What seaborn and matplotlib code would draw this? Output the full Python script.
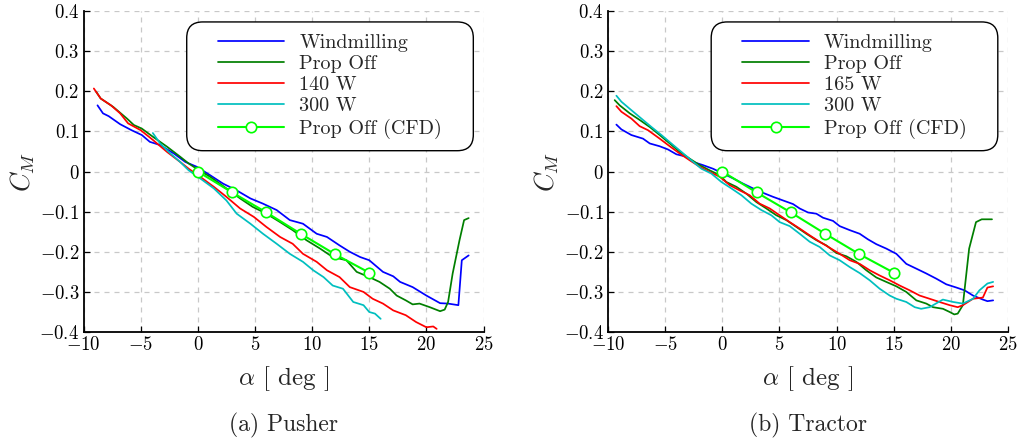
import numpy as np
import pandas as pd
import matplotlib
matplotlib.use("Agg")
import matplotlib.pyplot as plt
from matplotlib.ticker import FuncFormatter
from matplotlib.patches import FancyBboxPatch
from matplotlib.transforms import IdentityTransform
import seaborn as sns

# ---------------- data ----------------
cfd_alpha = [0, 3, 6, 9, 12, 15]
cfd_cm = [0.0, -0.052, -0.102, -0.155, -0.206, -0.252]

# Pusher
p_wind_a = [-8.78, -8.3, -7.8, -6.8, -5.8, -4.9, -4.2, -3.3, -2.1, -1.1, -0.1, 1.07, 2.2, 3.4, 4.6, 5.7,
            6.9, 8.05, 9.2, 10.4, 11.3, 12.4, 13.3, 14.2, 15.0, 16.2, 17.1, 17.7, 18.8, 20.0, 21.2,
            21.9, 22.8, 23.1, 23.7]
p_wind_c = [0.165, 0.145, 0.138, 0.118, 0.103, 0.091, 0.074, 0.066, 0.045, 0.024, 0.012, -0.009, -0.030,
            -0.047, -0.067, -0.080, -0.096, -0.121, -0.130, -0.155, -0.163, -0.184, -0.200, -0.213,
            -0.221, -0.250, -0.261, -0.275, -0.288, -0.309, -0.328, -0.329, -0.333, -0.221, -0.209]
p_off_a = [-8.9, -8.5, -7.4, -6.2, -5.6, -4.9, -3.9, -2.7, -1.55, -0.8, -0.1, 1.07, 2.5, 3.7, 4.8, 6.0,
           7.2, 8.3, 9.5, 10.7, 11.8, 13.0, 13.9, 15.0, 15.9, 16.8, 17.4, 18.2, 18.8, 19.4, 20.3, 21.2,
           21.6, 21.9, 22.3, 22.9, 23.3, 23.7]
p_off_c = [0.199, 0.182, 0.161, 0.132, 0.116, 0.107, 0.086, 0.062, 0.037, 0.020, 0.007, -0.013, -0.042,
           -0.067, -0.088, -0.105, -0.126, -0.146, -0.171, -0.192, -0.213, -0.221, -0.250, -0.263,
           -0.275, -0.292, -0.309, -0.321, -0.331, -0.329, -0.338, -0.348, -0.344, -0.325, -0.254,
           -0.171, -0.121, -0.116]
p_140_a = [-9.1, -8.5, -7.6, -6.8, -6.1, -5.0, -3.9, -2.7, -1.55, -0.8, 0.2, 1.4, 2.5, 3.7, 4.9, 6.0,
           7.2, 8.3, 9.2, 10.4, 11.3, 12.4, 13.3, 14.5, 15.3, 16.2, 17.1, 18.2, 19.1, 20.0, 20.6, 20.9]
p_140_c = [0.207, 0.182, 0.165, 0.145, 0.120, 0.103, 0.078, 0.049, 0.024, 0.007, -0.013, -0.038, -0.063,
           -0.092, -0.113, -0.138, -0.163, -0.180, -0.205, -0.225, -0.246, -0.263, -0.288, -0.300,
           -0.317, -0.329, -0.346, -0.358, -0.375, -0.388, -0.386, -0.392]
p_300_a = [-3.94, -3.3, -2.4, -1.55, -0.8, 0.2, 1.4, 2.5, 3.4, 4.6, 5.7, 6.9, 8.05, 9.2, 10.1, 11.0,
           11.8, 12.7, 13.6, 14.5, 15.0, 15.5, 16.0]
p_300_c = [0.096, 0.070, 0.045, 0.024, 0.003, -0.017, -0.042, -0.072, -0.105, -0.130, -0.155, -0.180,
           -0.205, -0.225, -0.246, -0.263, -0.284, -0.292, -0.325, -0.333, -0.350, -0.354, -0.367]

# Tractor
t_wind_a = [-9.27, -8.83, -7.96, -6.94, -6.35, -5.48, -4.75, -4.02, -3.15, -2.56, -1.69, -0.81, 0.06,
            0.94, 1.81, 2.69, 3.56, 4.44, 5.31, 6.19, 6.77, 7.5, 8.23, 8.81, 9.69, 10.27, 11.15, 12.02,
            12.75, 13.48, 14.35, 15.23, 16.1, 16.98, 17.85, 18.73, 19.6, 20.48, 21.2, 21.94, 22.8,
            23.2, 23.7]
t_wind_c = [0.117, 0.105, 0.091, 0.082, 0.070, 0.063, 0.055, 0.043, 0.037, 0.024, 0.016, 0.007, -0.005,
            -0.017, -0.030, -0.042, -0.053, -0.063, -0.072, -0.081, -0.092, -0.102, -0.105, -0.115,
            -0.123, -0.136, -0.146, -0.155, -0.169, -0.181, -0.192, -0.205, -0.230, -0.242, -0.254,
            -0.267, -0.281, -0.289, -0.296, -0.309, -0.319, -0.323, -0.321]
t_off_a = [-9.42, -8.98, -8.1, -7.2, -6.35, -5.48, -4.6, -3.73, -2.85, -1.98, -1.1, -0.23, 0.35, 1.23,
           2.1, 2.98, 3.85, 4.73, 5.6, 6.48, 7.35, 8.23, 9.1, 9.98, 10.85, 11.73, 12.6, 13.48, 14.35,
           15.23, 16.1, 16.98, 17.85, 18.44, 19.31, 19.9, 20.3, 20.6, 21.05, 21.6, 22.2, 22.7, 23.6]
t_off_c = [0.178, 0.165, 0.145, 0.128, 0.111, 0.091, 0.070, 0.049, 0.032, 0.016, 0.003, -0.009, -0.026,
           -0.038, -0.055, -0.076, -0.092, -0.109, -0.121, -0.138, -0.155, -0.171, -0.184, -0.203,
           -0.211, -0.225, -0.246, -0.264, -0.275, -0.286, -0.300, -0.321, -0.329, -0.338, -0.342,
           -0.350, -0.356, -0.354, -0.333, -0.192, -0.126, -0.119, -0.119]
t_165_a = [-9.27, -8.83, -7.96, -7.23, -6.5, -5.48, -4.6, -3.73, -2.85, -1.98, -1.1, -0.23, 0.65, 1.52,
           2.39, 3.27, 4.15, 5.02, 5.9, 6.77, 7.65, 8.52, 9.4, 10.27, 11.15, 12.02, 12.9, 13.77, 14.65,
           15.52, 16.4, 17.27, 18.14, 19.0, 19.9, 20.6, 21.05, 21.94, 22.8, 23.2, 23.7]
t_165_c = [0.163, 0.149, 0.132, 0.113, 0.103, 0.082, 0.063, 0.045, 0.028, 0.012, -0.001, -0.013, -0.034,
           -0.047, -0.059, -0.080, -0.092, -0.109, -0.126, -0.142, -0.159, -0.175, -0.190, -0.205,
           -0.221, -0.230, -0.246, -0.259, -0.271, -0.284, -0.296, -0.309, -0.317, -0.325, -0.333,
           -0.338, -0.333, -0.317, -0.314, -0.289, -0.286]
t_300_a = [-9.27, -8.83, -7.96, -7.08, -6.2, -5.33, -4.46, -3.58, -2.71, -1.83, -0.96, -0.08, 0.79, 1.67,
           2.54, 3.42, 4.29, 5.02, 5.9, 6.77, 7.65, 8.52, 9.4, 10.27, 11.15, 12.02, 12.9, 13.77, 14.65,
           15.23, 16.1, 16.84, 17.4, 18.14, 19.3, 20.2, 21.05, 21.94, 22.5, 23.2, 23.7]
t_300_c = [0.189, 0.174, 0.153, 0.132, 0.111, 0.091, 0.070, 0.049, 0.028, 0.007, -0.005, -0.026, -0.042,
           -0.059, -0.080, -0.096, -0.109, -0.126, -0.136, -0.155, -0.175, -0.188, -0.209, -0.221,
           -0.238, -0.253, -0.271, -0.292, -0.309, -0.317, -0.325, -0.338, -0.342, -0.338, -0.319,
           -0.325, -0.329, -0.317, -0.296, -0.279, -0.275]

x_ticks = [-10, -5, 0, 5, 10, 15, 20, 25]
y_ticks = [-0.4, -0.3, -0.2, -0.1, 0, 0.1, 0.2, 0.3, 0.4]

colors = {"Windmilling": "#0000ff", "Prop Off": "#007f00", "power": "#ff0000",
          "300 W": "#00bfbf", "Prop Off (CFD)": "#00ff00"}

# ---------------- style ----------------
sns.set_theme(style="white")
plt.rcParams["font.family"] = ["cmr10", "DejaVu Serif"]
plt.rcParams["mathtext.fontset"] = "cm"
plt.rcParams["axes.formatter.use_mathtext"] = True

fig = plt.figure(figsize=(10.19, 4.41), dpi=100)
ax_l = fig.add_axes([0.082, 0.247, 0.3925, 0.728])
ax_r = fig.add_axes([0.5967, 0.247, 0.3925, 0.728])

fmt = FuncFormatter(lambda v, p: "$%s$" % ("%g" % round(v, 2)))
legends = []


def draw(ax, series, caption):
    for label, a, c, col in series:
        df = pd.DataFrame({"alpha": a, "cm": c})
        sns.lineplot(data=df, x="alpha", y="cm", ax=ax, color=col, lw=1.25, label=label,
                     sort=False, estimator=None)
    df = pd.DataFrame({"alpha": cfd_alpha, "cm": cfd_cm})
    sns.lineplot(data=df, x="alpha", y="cm", ax=ax, color=colors["Prop Off (CFD)"], lw=1.5,
                 marker="o", markersize=7.5, markerfacecolor="white",
                 markeredgecolor=colors["Prop Off (CFD)"], markeredgewidth=1.2,
                 label="Prop Off (CFD)", estimator=None)
    ax.set_xlim(-10, 25)
    ax.set_ylim(-0.4, 0.4)
    ax.set_xticks(x_ticks)
    ax.set_yticks(y_ticks)
    ax.xaxis.set_major_formatter(fmt)
    ax.yaxis.set_major_formatter(fmt)
    ax.grid(True, color="#c8c8c8", linestyle=(0, (4, 4)), lw=0.9)
    for s in ["top", "right"]:
        ax.spines[s].set_visible(False)
    for s in ["left", "bottom"]:
        ax.spines[s].set_color("black")
        ax.spines[s].set_linewidth(1.3)
    ax.tick_params(direction="in", length=4, width=0.9, colors="black", labelsize=13.5,
                   left=True, bottom=True, pad=3)
    ax.set_xlabel(r"$\alpha$ [ deg ]", fontsize=18, labelpad=7)
    ax.set_ylabel(r"$C_M$", fontsize=19, labelpad=2)
    leg = ax.legend(loc="upper right", bbox_to_anchor=(0.927, 0.966), fontsize=14.5,
                    handlelength=3.3, handletextpad=0.75, borderpad=0.6, labelspacing=0.15,
                    frameon=False, borderaxespad=0.0)
    leg.set_zorder(6)
    legends.append((ax, leg))
    box = ax.get_position()
    fig.text(box.x0 + box.width / 2, 0.036, caption, ha="center", va="center", fontsize=17)


draw(ax_l, [("Windmilling", p_wind_a, p_wind_c, colors["Windmilling"]),
            ("Prop Off", p_off_a, p_off_c, colors["Prop Off"]),
            ("140 W", p_140_a, p_140_c, colors["power"]),
            ("300 W", p_300_a, p_300_c, colors["300 W"])], "(a) Pusher")
draw(ax_r, [("Windmilling", t_wind_a, t_wind_c, colors["Windmilling"]),
            ("Prop Off", t_off_a, t_off_c, colors["Prop Off"]),
            ("165 W", t_165_a, t_165_c, colors["power"]),
            ("300 W", t_300_a, t_300_c, colors["300 W"])], "(b) Tractor")

# rounded legend frame, wider horizontally than vertically (as in the reference)
fig.canvas.draw()
renderer = fig.canvas.get_renderer()
for ax, leg in legends:
    bb = leg.get_window_extent(renderer)
    extra = 19
    frame = FancyBboxPatch((bb.x0 - extra, bb.y0), bb.width + 2 * extra, bb.height,
                           boxstyle="round,pad=0,rounding_size=16", transform=IdentityTransform(),
                           facecolor="white", edgecolor="black", lw=1.0, zorder=5,
                           clip_on=False)
    ax.add_artist(frame)

fig.savefig("out.png", dpi=100)
